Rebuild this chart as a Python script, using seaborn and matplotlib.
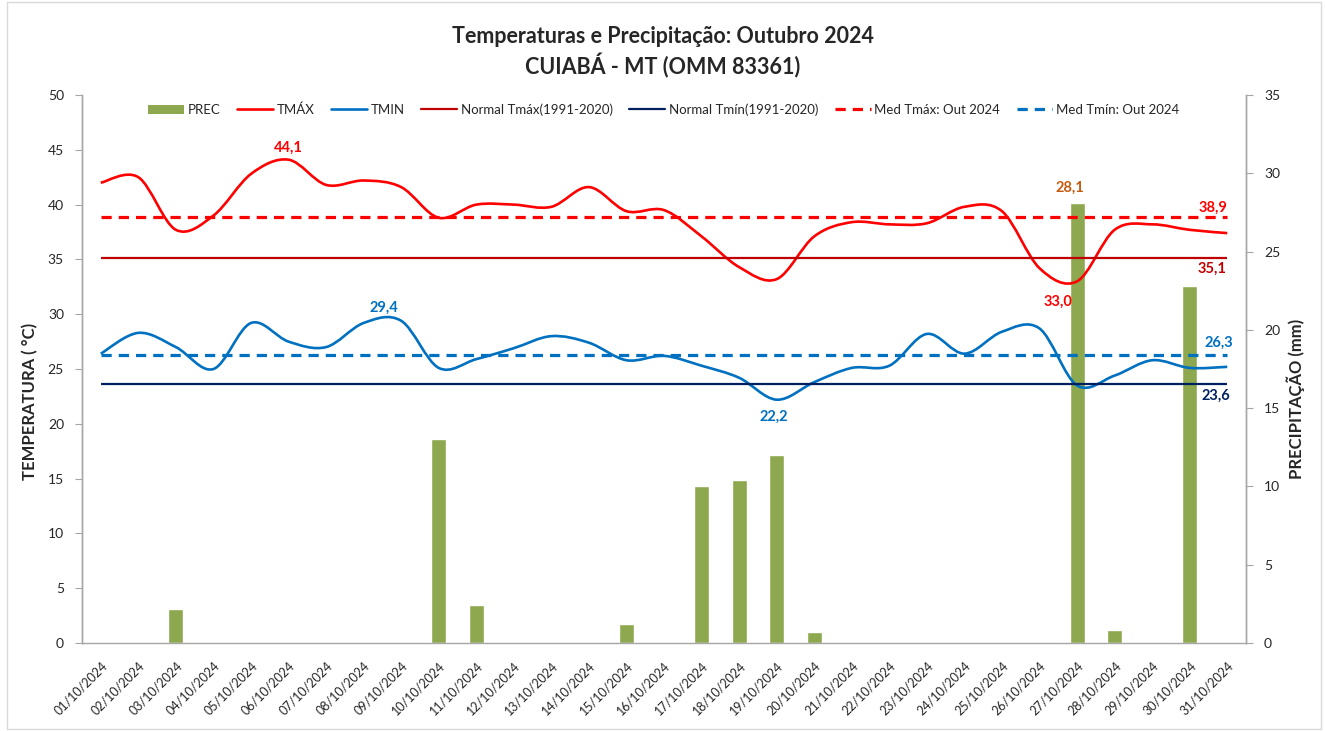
import numpy as np
import matplotlib
matplotlib.use("Agg")
import matplotlib.pyplot as plt
from matplotlib.path import Path
from matplotlib.patches import PathPatch, Patch, Rectangle
from matplotlib.lines import Line2D
import seaborn as sns

# dados diários - Cuiabá, outubro 2024
dias = [f"{d:02d}/10/2024" for d in range(1, 32)]
tmax = [42.0, 42.5, 37.7, 39.0, 42.8, 44.1, 41.8, 42.2, 41.6, 38.8,
        40.0, 40.0, 39.8, 41.6, 39.4, 39.5, 37.1, 34.3, 33.2, 37.1,
        38.4, 38.2, 38.3, 39.8, 39.4, 34.2, 33.0, 37.7, 38.2, 37.7, 37.4]
tmin = [26.4, 28.3, 27.0, 25.0, 29.2, 27.5, 27.0, 29.2, 29.4, 25.1,
        25.9, 26.9, 28.0, 27.4, 25.8, 26.2, 25.3, 24.2, 22.2, 23.8,
        25.1, 25.3, 28.2, 26.4, 28.4, 28.7, 23.5, 24.4, 25.8, 25.1, 25.2]
prec = [0, 0, 2.2, 0, 0, 0, 0, 0, 0, 13.0,
        2.4, 0, 0, 0, 1.2, 0, 10.0, 10.4, 12.0, 0.7,
        0, 0, 0, 0, 0, 0, 28.1, 0.8, 0, 22.8, 0]
normal_tmax = 35.1
normal_tmin = 23.6
med_tmax = 38.9
med_tmin = 26.3

C_PREC = "#8DA84F"
C_TMAX = "#FF0000"
C_TMIN = "#0070C0"
C_NTMAX = "#C00000"
C_NTMIN = "#002060"
C_AXIS = "#A6A6A6"

sns.set_style("white")
plt.rcParams["font.family"] = ["Lato", "DejaVu Sans"]


def smooth_path(y):
    # curva suavizada tipo Excel (Catmull-Rom -> Bezier cubica)
    p = np.column_stack([np.arange(len(y)), y]).astype(float)
    ext = np.vstack([p[0], p, p[-1]])
    verts = [p[0]]
    codes = [Path.MOVETO]
    for i in range(len(p) - 1):
        c1 = ext[i + 1] + (ext[i + 2] - ext[i]) / 6
        c2 = ext[i + 2] - (ext[i + 3] - ext[i + 1]) / 6
        verts += [c1, c2, p[i + 1]]
        codes += [Path.CURVE4] * 3
    return Path(verts, codes)


fig = plt.figure(figsize=(13.25, 7.31), dpi=100)
ax_p = fig.add_axes([0.0619, 0.1204, 0.8785, 0.7496])

# precipitação (barras) no eixo da direita
sns.barplot(x=dias, y=prec, color=C_PREC, saturation=1, width=0.4, ax=ax_p)
ax_p.set_xlabel("")

# temperaturas no eixo da esquerda
ax_t = ax_p.twinx()
ax_p.yaxis.tick_right()
ax_p.yaxis.set_label_position("right")
ax_t.yaxis.tick_left()
ax_t.yaxis.set_label_position("left")

ax_p.set_ylim(0, 35)
ax_p.set_yticks(range(0, 36, 5))
ax_p.set_ylabel("PRECIPITAÇÃO (mm)", fontsize=12, fontweight="bold")
ax_p.yaxis.set_label_coords(1.035, 0.445)

ax_t.set_ylim(0, 50)
ax_t.set_yticks(range(0, 51, 5))
ax_t.set_ylabel("TEMPERATURA ( °C)", fontsize=12, fontweight="bold")
ax_t.yaxis.set_label_coords(-0.038, 0.44)

n = len(dias)
ax_t.hlines(normal_tmax, 0, n - 1, color=C_NTMAX, lw=1.6)
ax_t.hlines(normal_tmin, 0, n - 1, color=C_NTMIN, lw=1.6)
ax_t.hlines(med_tmax, 0, n - 1, color=C_TMAX, lw=2.3, linestyles=(0, (3.2, 2.2)))
ax_t.hlines(med_tmin, 0, n - 1, color=C_TMIN, lw=2.3, linestyles=(0, (3.2, 2.2)))
ax_t.add_patch(PathPatch(smooth_path(tmax), fill=False, edgecolor=C_TMAX, lw=1.9))
ax_t.add_patch(PathPatch(smooth_path(tmin), fill=False, edgecolor=C_TMIN, lw=1.9))
ax_t.set_xlim(-0.5, n - 0.5)

# eixos
for a in (ax_p, ax_t):
    for s in a.spines.values():
        s.set_color(C_AXIS)
        s.set_linewidth(1.0)
    a.spines["top"].set_visible(False)
ax_t.spines["bottom"].set_visible(False)
ax_p.tick_params(axis="y", direction="out", length=5, color=C_AXIS, labelsize=10, pad=8)
ax_t.tick_params(axis="y", direction="out", length=5, color=C_AXIS, labelsize=10, pad=8)

ax_p.set_xticks(range(n))
ax_p.set_xticklabels(dias, rotation=45, ha="right", rotation_mode="anchor", fontsize=9)
ax_p.tick_params(axis="x", which="major", length=0, pad=12)
ax_p.set_xticks(np.arange(-0.5, n, 1.0), minor=True)
ax_p.tick_params(axis="x", which="minor", direction="out", length=5, color=C_AXIS)

# rótulos dos valores
fmt = lambda v: f"{v:.1f}".replace(".", ",")
lbl = dict(fontsize=10.5, fontweight="bold", ha="center", va="center",
           textcoords="offset pixels")
i_max = int(np.argmax(tmax))
ax_t.annotate(fmt(tmax[i_max]), (i_max, tmax[i_max]), xytext=(0, 12), color=C_TMAX, **lbl)
ax_t.annotate(fmt(tmin[8]), (8, tmin[8]), xytext=(-17, 13), color=C_TMIN, **lbl)
i_min = int(np.argmin(tmin))
ax_t.annotate(fmt(tmin[i_min]), (i_min, tmin[i_min]), xytext=(-3, -17), color=C_TMIN, **lbl)
ax_t.annotate(fmt(tmax[26]), (26, tmax[26]), xytext=(-19, -20), color=C_TMAX, **lbl)
i_p = int(np.argmax(prec))
ax_p.annotate(fmt(prec[i_p]), (i_p, prec[i_p]), xytext=(-7, 15), color="#C55A11", **lbl)
ax_t.annotate(fmt(med_tmax), (n - 1, med_tmax), xytext=(-14, 9), color=C_TMAX, **lbl)
ax_t.annotate(fmt(normal_tmax), (n - 1, normal_tmax), xytext=(-15, -10), color=C_NTMAX, **lbl)
ax_t.annotate(fmt(med_tmin), (n - 1, med_tmin), xytext=(-8, 12), color=C_TMIN, **lbl)
ax_t.annotate(fmt(normal_tmin), (n - 1, normal_tmin), xytext=(-11, -11), color=C_NTMIN, **lbl)

# legenda
handles = [
    Patch(facecolor=C_PREC, edgecolor="none"),
    Line2D([], [], color=C_TMAX, lw=1.9),
    Line2D([], [], color=C_TMIN, lw=1.9),
    Line2D([], [], color=C_NTMAX, lw=1.6),
    Line2D([], [], color=C_NTMIN, lw=1.6),
    Line2D([], [], color=C_TMAX, lw=2.3, ls=(0, (3.2, 2.2))),
    Line2D([], [], color=C_TMIN, lw=2.3, ls=(0, (3.2, 2.2))),
]
labels = ["PREC", "TMÁX", "TMIN", "Normal Tmáx(1991-2020)", "Normal Tmín(1991-2020)",
          "Med Tmáx: Out 2024", "Med Tmín: Out 2024"]
ax_t.legend(handles, labels, ncol=7, loc="center", bbox_to_anchor=(0.5, 0.973),
            frameon=False, fontsize=9.5, handlelength=2.7, handleheight=0.7,
            columnspacing=1.25, handletextpad=0.3)

fig.text(0.5, 0.950, "Temperaturas e Precipitação: Outubro 2024", ha="center", va="center",
         fontsize=15.5, fontweight="bold")
fig.text(0.5, 0.910, "CUIABÁ - MT (OMM 83361)", ha="center", va="center",
         fontsize=15.5, fontweight="bold")

# borda da área do gráfico
fig.add_artist(Rectangle((0.005, 0.003), 0.992, 0.994, transform=fig.transFigure,
                         fill=False, edgecolor="#D9D9D9", lw=1))

fig.savefig("out.png", dpi=100)
